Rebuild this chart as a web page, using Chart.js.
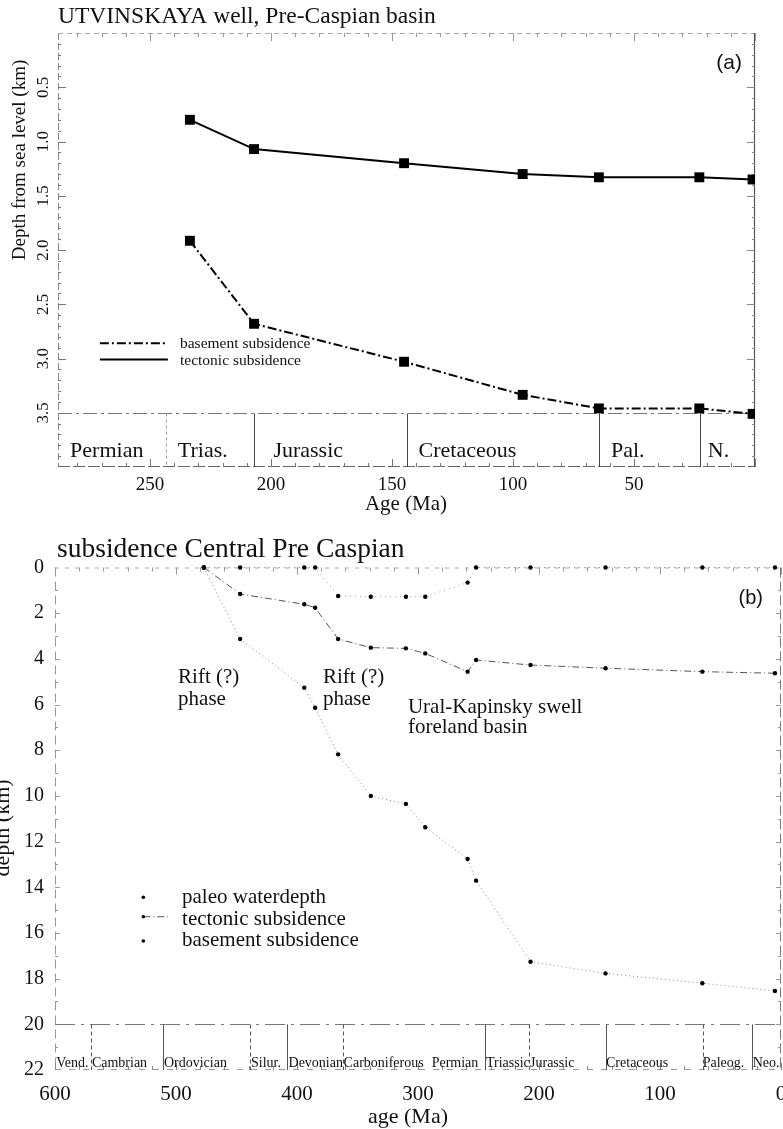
<!DOCTYPE html>
<html><head><meta charset="utf-8">
<script src="https://cdn.jsdelivr.net/npm/chart.js@4.4.1/dist/chart.umd.min.js"></script>
<style>
html,body{margin:0;padding:0;background:#fff;overflow:hidden;width:783px;height:1129px;}
#ca{position:absolute;left:0;top:0;}
#cb{position:absolute;left:0;top:520px;}
</style></head><body>
<canvas id="ca" width="800" height="520"></canvas>
<canvas id="cb" width="800" height="609"></canvas>
<script>
// ---------- data: chart (a) ----------
const agesA = [233.5, 207, 145, 96, 64.5, 23, 1];
const tectonicA = [0.80, 1.07, 1.20, 1.30, 1.33, 1.33, 1.35];
const basementA = [1.915, 2.68, 3.03, 3.335, 3.46, 3.46, 3.51];
const xTicksA = [250, 200, 150, 100, 50];
const yTicksA = [0.5, 1.0, 1.5, 2.0, 2.5, 3.0, 3.5];
const boundsA = [243.5, 207, 144, 64.5, 22.7];
const periodsA = ['Permian', 'Trias.', 'Jurassic', 'Cretaceous', 'Pal.', 'N.'];
const periodStartA = [283, 238.5, 199, 139, 59.5, 19.5];

// ---------- data: chart (b) ----------
const agesB = [477, 447, 394, 385, 366, 339, 310, 294, 259, 252, 207, 145, 65, 5];
const waterB = [0, 0, 0, 0, 1.25, 1.28, 1.28, 1.28, 0.66, 0, 0, 0, 0, 0];
const tectonicB = [0, 1.16, 1.61, 1.76, 3.13, 3.51, 3.54, 3.76, 4.56, 4.05, 4.27, 4.41, 4.56, 4.63];
const basementB = [0, 3.13, 5.26, 6.14, 8.18, 10.0, 10.35, 11.37, 12.76, 13.71, 17.26, 17.77, 18.2, 18.54];
const xTicksB = [600, 500, 400, 300, 200, 100, 0];
const yTicksB = [0, 2, 4, 6, 8, 10, 12, 14, 16, 18, 20, 22];
const boundsB = [570.5, 510.5, 438.8, 408, 362.2, 244.9, 208.3, 144.6, 64.7, 23.7];
const periodsB = ['Vend.', 'Cambrian', 'Ordovician', 'Silur.', 'Devonian', 'Carboniferous', 'Permian', 'Triassic', 'Jurassic', 'Cretaceous', 'Paleog.', 'Neo.'];
const periodStartB = [599, 569.5, 510, 438, 407, 361.5, 288.7, 243.8, 207.4, 144.6, 64.7, 23.4];

const SERIF = '"Liberation Serif", "Times New Roman", serif';
const SANS = '"Liberation Sans", Arial, sans-serif';

function pts(xs, ys) { return xs.map((x, i) => ({x: x, y: ys[i]})); }
function txt(ctx, s, x, y, size, fam, opt) {
  opt = opt || {};
  ctx.save();
  ctx.font = size + 'px ' + fam;
  ctx.fillStyle = opt.color || '#111';
  ctx.textAlign = opt.align || 'left';
  ctx.textBaseline = opt.baseline || 'alphabetic';
  if (opt.rot) { ctx.translate(x, y); ctx.rotate(opt.rot); ctx.fillText(s, 0, 0); }
  else ctx.fillText(s, x, y);
  ctx.restore();
}
function seg(ctx, x1, y1, x2, y2, color, width, dash) {
  ctx.save();
  ctx.strokeStyle = color; ctx.lineWidth = width || 1;
  ctx.setLineDash(dash || []);
  ctx.beginPath(); ctx.moveTo(x1, y1); ctx.lineTo(x2, y2); ctx.stroke();
  ctx.restore();
}

// ---------- chart (a) ----------
const decorA = {
  id: 'decorA',
  beforeDatasetsDraw(chart) {
    const ctx = chart.ctx, {left, right, top, bottom} = chart.chartArea;
    const xs = chart.scales.x, ys = chart.scales.y;
    seg(ctx, left + 0.5, top, left + 0.5, bottom, '#888', 1, [7, 3]);
    seg(ctx, left, top + 0.5, right, top + 0.5, '#aaa', 1, [5, 4]);
    seg(ctx, right - 0.5, top, right - 0.5, bottom, '#555', 1.2, []);
    seg(ctx, left, bottom - 0.5, right, bottom - 0.5, '#666', 1, [12, 3]);
    for (let m = 0; m <= 280; m += 10) {
      const p = Math.round(xs.getPixelForValue(m)) + 0.5;
      const len = m % 50 === 0 ? 8 : 4;
      seg(ctx, p, bottom, p, bottom - len, '#777', 1);
      seg(ctx, p, top, p, top + len, '#999', 1);
    }
    for (let k = 1; k < 40; k++) {
      const d = k / 10;
      const p = Math.round(ys.getPixelForValue(d)) + 0.5;
      const len = k % 5 === 0 ? 8 : 3;
      seg(ctx, left, p, left + len, p, '#777', 1);
      seg(ctx, right, p, right - len, p, '#888', 1);
    }
    const yTop = Math.round(ys.getPixelForValue(3.5)) + 0.5;
    seg(ctx, left, yTop, right, yTop, '#777', 1, [14, 4, 3, 4]);
    boundsA.forEach((b, i) => {
      const p = Math.round(xs.getPixelForValue(b)) + 0.5;
      seg(ctx, p, yTop, p, bottom, i === 0 ? '#999' : '#444', 1, i === 0 ? [3, 3] : []);
    });
  },
  afterDraw(chart) {
    const ctx = chart.ctx, xs = chart.scales.x, ys = chart.scales.y;
    txt(ctx, 'UTVINSKAYA well, Pre-Caspian basin', 58, 23, 23.5, SERIF);
    txt(ctx, 'Depth from sea level (km)', 25, 160, 19, SERIF, {align: 'center', rot: -Math.PI / 2});
    txt(ctx, 'Age (Ma)', 406, 510, 21, SERIF, {align: 'center'});
    txt(ctx, '(a)', xs.getPixelForValue(5.4), ys.getPixelForValue(0.33), 21, SANS, {align: 'right'});
    const yb = ys.getPixelForValue(3.91);
    periodsA.forEach((n, i) => txt(ctx, n, xs.getPixelForValue(periodStartA[i]), yb, 22, SERIF));
    const ds = chart.data.datasets;
    const lx1 = xs.getPixelForValue(270.7), lx2 = xs.getPixelForValue(242.6), tx = xs.getPixelForValue(237.6);
    const rows = [[2.86, 2.905], [3.01, 3.058]];
    ds.forEach((d, i) => {
      const ly = ys.getPixelForValue(rows[i][0]);
      seg(ctx, lx1, ly, lx2, ly, '#000', 2, d.borderDash);
      txt(ctx, d.label, tx, ys.getPixelForValue(rows[i][1]), 15.5, SERIF);
    });
  }
};

new Chart(document.getElementById('ca'), {
  type: 'line',
  data: {
    datasets: [
      {label: 'basement subsidence', data: pts(agesA, basementA), borderColor: '#000', borderWidth: 2,
        borderDash: [9, 3, 2, 3], pointStyle: 'rect', pointRadius: 7, pointBackgroundColor: '#000',
        pointBorderWidth: 0, pointBorderColor: '#000'},
      {label: 'tectonic subsidence', data: pts(agesA, tectonicA), borderColor: '#000', borderWidth: 2,
        pointStyle: 'rect', pointRadius: 7, pointBackgroundColor: '#000', pointBorderWidth: 0,
        pointBorderColor: '#000'}
    ]
  },
  options: {
    responsive: false, animation: false, devicePixelRatio: 1, events: [],
    layout: {padding: {left: 0, top: 33, right: 45, bottom: 0}},
    plugins: {legend: {display: false}, tooltip: {enabled: false}, title: {display: false}},
    scales: {
      x: {
        type: 'linear', reverse: true, min: 0, max: 288,
        afterBuildTicks: s => { s.ticks = xTicksA.map(v => ({value: v})); },
        afterFit: s => { s.height = 53; },
        grid: {display: false, drawTicks: false}, border: {display: false},
        ticks: {autoSkip: false, maxRotation: 0, padding: 7, color: '#111',
          font: {family: SERIF, size: 19}, callback: v => String(v)}
      },
      y: {
        type: 'linear', reverse: true, min: 0, max: 4,
        afterBuildTicks: s => { s.ticks = yTicksA.map(v => ({value: v})); },
        afterFit: s => { s.width = 58; },
        grid: {display: false, drawTicks: false}, border: {display: false},
        ticks: {autoSkip: false, minRotation: 90, maxRotation: 90, crossAlign: 'center', padding: 4,
          color: '#111', font: {family: SERIF, size: 17}, callback: v => Number(v).toFixed(1)}
      }
    }
  },
  plugins: [decorA]
});

// ---------- chart (b) ----------
const decorB = {
  id: 'decorB',
  beforeDatasetsDraw(chart) {
    const ctx = chart.ctx, {left, right, top, bottom} = chart.chartArea;
    const xs = chart.scales.x, ys = chart.scales.y;
    seg(ctx, left + 0.5, top, left + 0.5, bottom, '#999', 1, [9, 5]);
    seg(ctx, left, top + 0.5, right, top + 0.5, '#aaa', 1, [4, 6]);
    seg(ctx, right - 0.5, top, right - 0.5, bottom, '#777', 1, [10, 4]);
    seg(ctx, left, bottom - 0.5, right, bottom - 0.5, '#999', 1, [6, 8]);
    for (let m = 0; m <= 600; m += 20) {
      const p = Math.round(xs.getPixelForValue(m)) + 0.5;
      const len = m % 100 === 0 ? 7 : 4;
      seg(ctx, p, bottom, p, bottom - len, '#888', 1);
      seg(ctx, p, top, p, top + len, '#999', 1);
    }
    for (let d = 1; d < 22; d++) {
      const p = Math.round(ys.getPixelForValue(d)) + 0.5;
      const len = d % 2 === 0 ? 5 : 3;
      seg(ctx, left, p, left + len, p, '#999', 1);
      seg(ctx, right, p, right - len, p, '#999', 1);
    }
    const yTop = Math.round(ys.getPixelForValue(20)) + 0.5;
    seg(ctx, left, yTop, right, yTop, '#777', 1, [20, 6, 3, 6]);
    boundsB.forEach((b, i) => {
      const p = Math.round(xs.getPixelForValue(b)) + 0.5;
      seg(ctx, p, yTop, p, bottom, '#555', 1, i % 2 === 0 ? [4, 3] : []);
    });
  },
  afterDraw(chart) {
    const ctx = chart.ctx, xs = chart.scales.x, ys = chart.scales.y;
    txt(ctx, 'subsidence Central Pre Caspian', 57, 37, 27.5, SERIF);
    txt(ctx, 'depth (km)', 9, 308, 22, SERIF, {align: 'center', rot: -Math.PI / 2});
    txt(ctx, 'age (Ma)', 408, 603, 22, SERIF, {align: 'center'});
    txt(ctx, '(b)', xs.getPixelForValue(14.9), ys.getPixelForValue(1.6), 20, SANS, {align: 'right'});
    const yb = ys.getPixelForValue(21.87);
    periodsB.forEach((n, i) => txt(ctx, n, xs.getPixelForValue(periodStartB[i]), yb, 14, SERIF));
    const r1 = xs.getPixelForValue(498.3), r2 = xs.getPixelForValue(378.5), u = xs.getPixelForValue(308.3);
    txt(ctx, 'Rift (?)', r1, ys.getPixelForValue(5.06), 21, SERIF);
    txt(ctx, 'phase', r1, ys.getPixelForValue(6.02), 21, SERIF);
    txt(ctx, 'Rift (?)', r2, ys.getPixelForValue(5.06), 21, SERIF);
    txt(ctx, 'phase', r2, ys.getPixelForValue(6.02), 21, SERIF);
    txt(ctx, 'Ural-Kapinsky swell', u, ys.getPixelForValue(6.37), 21, SERIF);
    txt(ctx, 'foreland basin', u, ys.getPixelForValue(7.25), 21, SERIF);
    const ds = chart.data.datasets;
    const dx = xs.getPixelForValue(527), lx2 = xs.getPixelForValue(506.6), tx = xs.getPixelForValue(495);
    const rows = [[14.44, 14.70], [15.29, 15.67], [16.35, 16.57]];
    ds.forEach((d, i) => {
      const ly = ys.getPixelForValue(rows[i][0]);
      if (d.legendLine) seg(ctx, dx, ly, lx2, ly, d.borderColor, 1, d.borderDash);
      ctx.save(); ctx.fillStyle = '#000'; ctx.beginPath(); ctx.arc(dx, ly, 1.8, 0, Math.PI * 2); ctx.fill(); ctx.restore();
      txt(ctx, d.label, tx, ys.getPixelForValue(rows[i][1]), 21, SERIF);
    });
  }
};

const dotOpts = {pointStyle: 'circle', pointRadius: 2.2, pointBackgroundColor: '#000', pointBorderWidth: 0, clip: false};
new Chart(document.getElementById('cb'), {
  type: 'line',
  data: {
    datasets: [
      Object.assign({label: 'paleo waterdepth', data: pts(agesB, waterB), borderColor: '#999', borderWidth: 1,
        borderDash: [1, 4]}, dotOpts),
      Object.assign({label: 'tectonic subsidence', data: pts(agesB, tectonicB), borderColor: '#555', borderWidth: 1,
        borderDash: [7, 3, 1, 3], legendLine: true}, dotOpts),
      Object.assign({label: 'basement subsidence', data: pts(agesB, basementB), borderColor: '#888', borderWidth: 1,
        borderDash: [1, 3]}, dotOpts)
    ]
  },
  options: {
    responsive: false, animation: false, devicePixelRatio: 1, events: [],
    layout: {padding: {left: 0, top: 47.5, right: 19, bottom: 0}},
    plugins: {legend: {display: false}, tooltip: {enabled: false}, title: {display: false}},
    scales: {
      x: {
        type: 'linear', reverse: true, min: 0, max: 600,
        afterBuildTicks: s => { s.ticks = xTicksB.map(v => ({value: v})); },
        afterFit: s => { s.height = 59; },
        grid: {display: false, drawTicks: false}, border: {display: false},
        ticks: {autoSkip: false, maxRotation: 0, padding: 12, color: '#111',
          font: {family: SERIF, size: 21}, callback: v => String(v)}
      },
      y: {
        type: 'linear', reverse: true, min: 0, max: 22,
        afterBuildTicks: s => { s.ticks = yTicksB.map(v => ({value: v})); },
        afterFit: s => { s.width = 55; },
        grid: {display: false, drawTicks: false}, border: {display: false},
        ticks: {autoSkip: false, padding: 11, color: '#111', font: {family: SERIF, size: 20},
          callback: v => String(v)}
      }
    }
  },
  plugins: [decorB]
});
</script>
</body></html>
